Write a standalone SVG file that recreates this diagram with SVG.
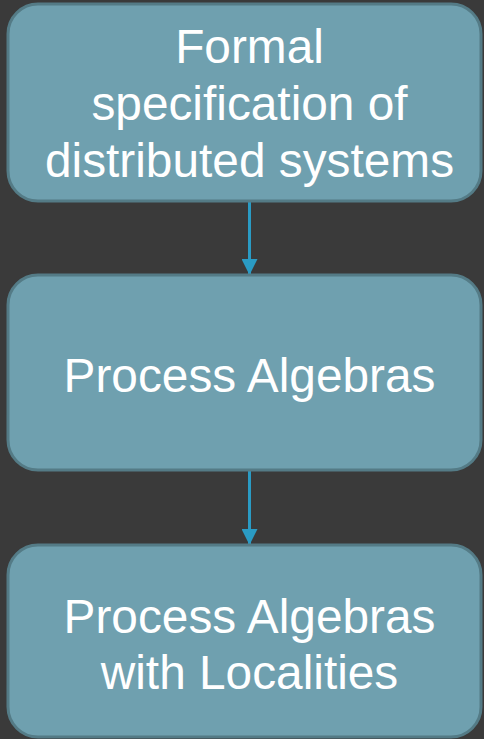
<svg xmlns="http://www.w3.org/2000/svg" width="484" height="739" viewBox="0 0 484 739">
  <defs>
    <style>
      .box { fill: #6fa0af; stroke: #547b86; stroke-width: 3; }
      .label { font-family: "Liberation Sans", Arial, sans-serif; font-size: 47.8px; fill: #ffffff; text-anchor: middle; }
      .link { stroke: #2a9bc4; stroke-width: 3; fill: none; }
    </style>
    <marker id="arrow" markerWidth="16" markerHeight="16" refX="16" refY="8" orient="auto" markerUnits="userSpaceOnUse">
      <path d="M0,0 L16,8 L0,16 Z" fill="#2a9bc4"/>
    </marker>
  </defs>
  <rect width="484" height="739" fill="#3a3a3a"/>

  <g id="connectors">
    <line class="link" x1="249.5" y1="202" x2="249.5" y2="275" marker-end="url(#arrow)"/>
    <line class="link" x1="249.5" y1="471" x2="249.5" y2="545" marker-end="url(#arrow)"/>
  </g>

  <g id="node-formal-spec">
    <rect class="box" x="8" y="4" width="473" height="197" rx="30"/>
    <text class="label" x="249.5" y="63">Formal</text>
    <text class="label" x="249.5" y="120">specification of</text>
    <text class="label" x="249.5" y="176.5">distributed systems</text>
  </g>

  <g id="node-process-algebras">
    <rect class="box" x="8" y="275" width="473" height="195" rx="30"/>
    <text class="label" x="249.5" y="391.5">Process Algebras</text>
  </g>

  <g id="node-localities">
    <rect class="box" x="8" y="545" width="473" height="192" rx="30"/>
    <text class="label" x="249.5" y="632.5">Process Algebras</text>
    <text class="label" x="249.5" y="689">with Localities</text>
  </g>
</svg>
